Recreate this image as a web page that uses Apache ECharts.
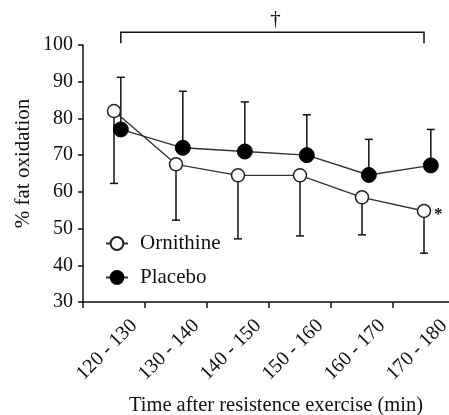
<!DOCTYPE html>
<html>
<head>
<meta charset="utf-8">
<script src="https://cdn.jsdelivr.net/npm/echarts@6/dist/echarts.min.js"></script>
<style>
html, body { margin: 0; padding: 0; background: #fff; }
#main { width: 449px; height: 415px; }
</style>
</head>
<body>
<div id="main"></div>
<script>
// time bins (min after exercise)
var categories = ['120 - 130', '130 - 140', '140 - 150', '150 - 160', '160 - 170', '170 - 180'];
// % fat oxidation, means and the end of the drawn error bar
var ornithine = [82, 67.5, 64.5, 64.5, 58.5, 54.8];
var ornithineLow = [62.3, 52.3, 47.2, 48, 48.3, 43.3];
var placebo = [77, 72, 71, 70, 64.6, 67.2];
var placeboHigh = [91.2, 87.4, 84.5, 81, 74.3, 77];

var placeboShift = 0.11; // placebo points sit a little right of the bin centre
var serif = 'Liberation Serif';

function pts(vals, shift) {
    return vals.map(function (v, i) { return [i + shift, v]; });
}
function bars(vals, ends, shift) {
    return vals.map(function (v, i) { return [i + shift, v, ends[i]]; });
}
function renderErr(params, api) {
    var x = api.value(0);
    var p = api.coord([x, api.value(1)]);
    var e = api.coord([x, api.value(2)]);
    var st = { stroke: '#111', lineWidth: 1.5 };
    return {
        type: 'group',
        children: [
            { type: 'line', shape: { x1: p[0], y1: p[1], x2: e[0], y2: e[1] }, style: st },
            { type: 'line', shape: { x1: e[0] - 4, y1: e[1], x2: e[0] + 4, y2: e[1] }, style: st }
        ]
    };
}

var chart = echarts.init(document.getElementById('main'));
chart.setOption({
    animation: false,
    backgroundColor: '#fff',
    grid: { left: 83, top: 45, width: 372, height: 257, containLabel: false, outerBoundsMode: 'none' },
    legend: {
        data: ['Ornithine', 'Placebo'],
        orient: 'vertical',
        left: 105,
        top: 233,
        padding: 0,
        itemWidth: 22,
        itemHeight: 16,
        itemGap: 13,
        textStyle: { fontFamily: serif, fontSize: 21, lineHeight: 18, color: '#111', padding: [0, 0, 0, 7] }
    },
    xAxis: [{
        type: 'category',
        data: categories,
        boundaryGap: true,
        axisLine: { lineStyle: { color: '#111', width: 1.5 } },
        axisTick: { show: true, length: 6, lineStyle: { color: '#111', width: 1.5 } },
        axisLabel: {
            rotate: 45,
            align: 'center',
            verticalAlign: 'bottom',
            margin: 55,
            fontFamily: serif,
            fontSize: 20,
            color: '#111'
        },
        name: 'Time after resistence exercise (min)',
        nameLocation: 'middle',
        nameGap: 93,
        nameMoveOverlap: false,
        nameTextStyle: { fontFamily: serif, fontSize: 20.5, color: '#111', padding: [0, 0, 0, 14] }
    }, {
        type: 'value',
        min: -0.5,
        max: 5.5,
        show: false
    }],
    yAxis: {
        type: 'value',
        min: 30,
        max: 100,
        interval: 10,
        splitLine: { show: false },
        axisLine: { show: true, onZero: false, lineStyle: { color: '#111', width: 1.5 } },
        axisTick: { show: true, length: 5, lineStyle: { color: '#111', width: 1.5 } },
        axisLabel: { fontFamily: serif, fontSize: 20, color: '#111', margin: 10 },
        name: '% fat oxidation',
        nameLocation: 'middle',
        nameGap: 49,
        nameMoveOverlap: false,
        nameTextStyle: { fontFamily: serif, fontSize: 21, color: '#111', padding: [0, 0, 0, 20] }
    },
    series: [{
        name: 'Placebo',
        type: 'line',
        xAxisIndex: 1,
        data: pts(placebo, placeboShift),
        symbol: 'circle',
        symbolSize: 15,
        z: 3,
        lineStyle: { color: '#333', width: 1.4 },
        itemStyle: { color: '#000', borderColor: '#000', borderWidth: 1 }
    }, {
        name: 'Ornithine',
        type: 'line',
        xAxisIndex: 1,
        data: pts(ornithine, 0),
        symbol: 'circle',
        symbolSize: 13,
        z: 4,
        lineStyle: { color: '#333', width: 1.4 },
        itemStyle: { color: '#fff', borderColor: '#222', borderWidth: 1.5 }
    }, {
        name: 'placeboErr',
        type: 'custom',
        xAxisIndex: 1,
        renderItem: renderErr,
        encode: { x: 0, y: [1, 2] },
        data: bars(placebo, placeboHigh, placeboShift),
        z: 1
    }, {
        name: 'ornithineErr',
        type: 'custom',
        xAxisIndex: 1,
        renderItem: renderErr,
        encode: { x: 0, y: [1, 2] },
        data: bars(ornithine, ornithineLow, 0),
        z: 1
    }]
});

// bracket over the whole period, dagger, and the asterisk at the last bin
var last = categories.length - 1;
var bl = chart.convertToPixel({ seriesIndex: 0 }, [placeboShift, 100.5]);
var tl = chart.convertToPixel({ seriesIndex: 0 }, [placeboShift, 103.5]);
var br = chart.convertToPixel({ seriesIndex: 1 }, [last, 100.5]);
var tr = chart.convertToPixel({ seriesIndex: 1 }, [last, 103.5]);
var star = chart.convertToPixel({ seriesIndex: 1 }, [last, ornithine[last]]);
chart.setOption({
    graphic: [{
        type: 'polyline',
        shape: { points: [bl, tl, tr, br] },
        style: { stroke: '#111', lineWidth: 1.5, fill: null }
    }, {
        type: 'text',
        x: (tl[0] + tr[0]) / 2 + 3,
        y: tl[1] - 2,
        style: { text: '\u2020', font: '21px "Liberation Serif"', fill: '#111', align: 'center', verticalAlign: 'bottom' }
    }, {
        type: 'text',
        x: star[0] + 10,
        y: star[1] + 4,
        style: { text: '*', font: 'bold 17px "Liberation Serif"', fill: '#111', align: 'left', verticalAlign: 'middle' }
    }]
});
</script>
</body>
</html>
